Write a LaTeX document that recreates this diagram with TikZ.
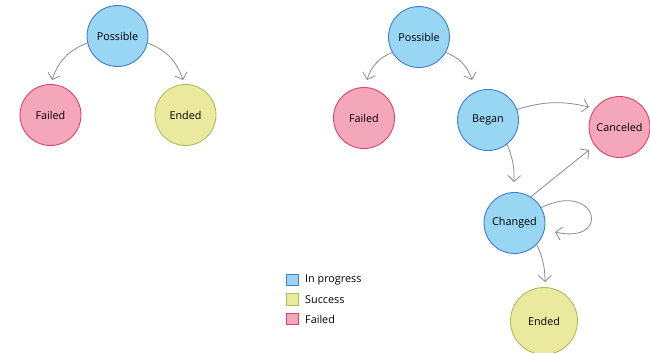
\documentclass[tikz,border=0pt]{standalone}
\usepackage{fontspec}
\setmainfont{Open Sans}
\usetikzlibrary{arrows.meta}
\definecolor{progfill}{HTML}{98D6F4}
\definecolor{progline}{HTML}{3F7DC8}
\definecolor{succfill}{HTML}{EBE99D}
\definecolor{succline}{HTML}{A6C25C}
\definecolor{failfill}{HTML}{F4A6BA}
\definecolor{failline}{HTML}{E0416B}
\definecolor{edge}{HTML}{8C8C8C}
\tikzset{
  state/.style={circle, minimum size=61pt, inner sep=0pt, line width=0.9pt, font=\fontsize{10.8}{13}\selectfont},
  prog/.style={state, fill=progfill, draw=progline},
  succ/.style={state, fill=succfill, draw=succline},
  fail/.style={state, fill=failfill, draw=failline},
  link/.style={draw=edge, line width=0.8pt, -{Straight Barb[length=6pt,width=13pt,line width=0.8pt]}},
  key/.style={minimum size=11.5pt, inner sep=0pt, line width=0.9pt},
  keytext/.style={anchor=west, inner sep=0pt, font=\fontsize{10.8}{13}\selectfont}
}
\begin{document}
\begin{tikzpicture}[x=1pt,y=-1pt]
\useasboundingbox (0,0) rectangle (650,353);

% first machine
\node[prog] (p1) at (117.5,36) {Possible};
\node[fail] (f1) at (50.5,115) {Failed};
\node[succ] (e1) at (185.5,115) {Ended};
\draw[link] (p1.193) to[bend right=25] ([shift={(1.5,-35)}]f1.center);
\draw[link] (p1.-13) to[bend left=25] ([shift={(-2.5,-35)}]e1.center);

% second machine
\node[prog] (p2) at (419,37) {Possible};
\node[fail] (f2) at (364,118) {Failed};
\node[prog] (b2) at (488,120) {Began};
\node[fail] (c2) at (619.5,127) {Canceled};
\node[prog] (g2) at (514.5,223) {Changed};
\node[succ, minimum size=67pt] (e2) at (544,321) {Ended};

\draw[link] (p2.210) to[bend right=25] ([shift={(3,-38)}]f2.center);
\draw[link] (p2.-30) to[bend left=25] ([shift={(-16,-40)}]b2.center);
\draw[link] (b2.20) to[bend left=15] ([shift={(-30.5,-20)}]c2.center);
\draw[link] (b2.-52) to[bend left=12] ([shift={(-0.5,-41)}]g2.center);
\draw[link] (g2.58) -- ([shift={(-30.5,23)}]c2.center);
\draw[link] (g2.30) .. controls (598,180) and (612,245) .. ([shift={(40.5,9)}]g2.center);
\draw[link] (g2.-44) to[bend left=12] ([shift={(1,-39)}]e2.center);

% legend
\node[key, fill=progfill, draw=progline] (k1) at (292.5,280) {};
\node[key, fill=succfill, draw=succline] (k2) at (292.5,299.5) {};
\node[key, fill=failfill, draw=failline] (k3) at (292.5,319) {};
\node[keytext] (t1) at (305,280) {In progress};
\node[keytext] (t2) at (305,299.5) {Success};
\node[keytext] (t3) at (305,319) {Failed};
\end{tikzpicture}
\end{document}
